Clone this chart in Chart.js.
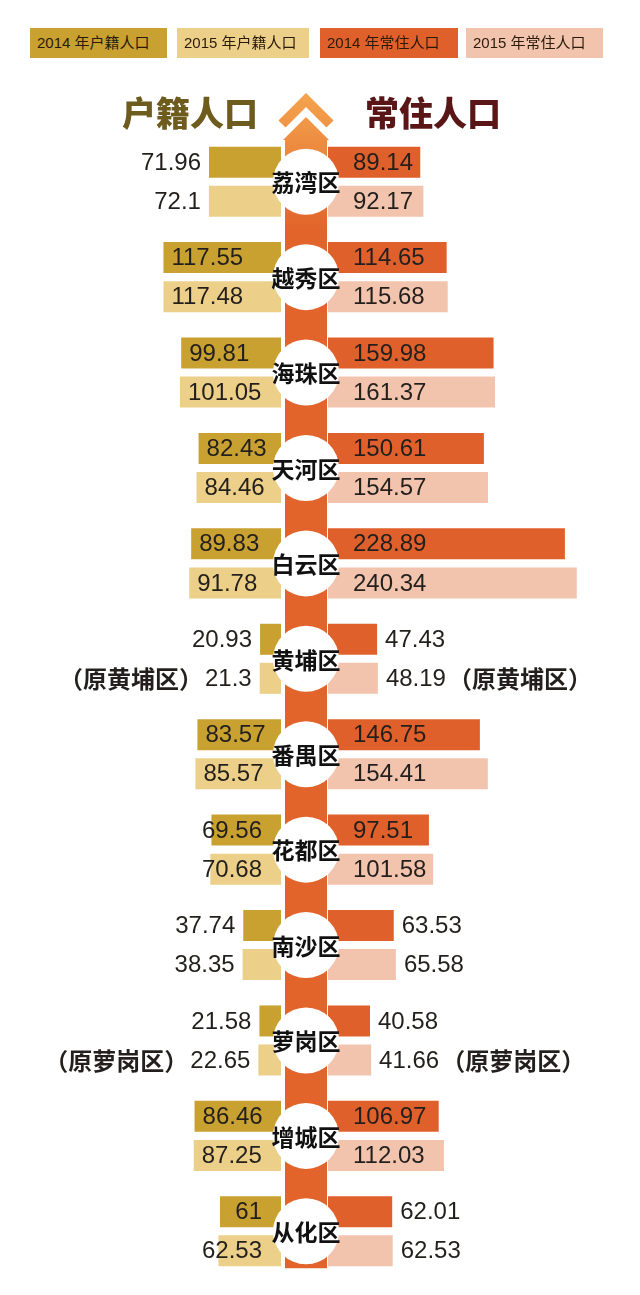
<!DOCTYPE html>
<html><head><meta charset="utf-8">
<script src="https://cdn.jsdelivr.net/npm/chart.js@4.4.1/dist/chart.umd.min.js"></script>
<style>
html,body{margin:0;padding:0;background:#fff;width:640px;height:1295px;overflow:hidden;}
#wrap{position:relative;width:640px;height:1295px;}
#c{position:absolute;left:0;top:0;}
.lg{position:absolute;top:28px;height:30px;line-height:30px;font-family:"Liberation Sans","Noto Sans CJK SC",sans-serif;font-size:15px;color:#2a1a0a;padding-left:7px;box-sizing:border-box;white-space:nowrap;}
.tt{position:absolute;top:90px;font-family:"Noto Sans CJK SC",sans-serif;font-weight:900;font-size:34px;line-height:44px;white-space:nowrap;}
</style></head>
<body><div id="wrap">
<canvas id="c" width="640" height="1295"></canvas>
<div id="legend"></div>
<div id="titles"></div>
</div>
<script>
const districts = ['荔湾区','越秀区','海珠区','天河区','白云区','黄埔区','番禺区','花都区','南沙区','萝岗区','增城区','从化区'];
const huji2014 = [71.96,117.55,99.81,82.43,89.83,20.93,83.57,69.56,37.74,21.58,86.46,61];
const huji2015 = [72.1,117.48,101.05,84.46,91.78,21.3,85.57,70.68,38.35,22.65,87.25,62.53];
const changzhu2014 = [89.14,114.65,159.98,150.61,228.89,47.43,146.75,97.51,63.53,40.58,106.97,62.01];
const changzhu2015 = [92.17,115.68,161.37,154.57,240.34,48.19,154.41,101.58,65.58,41.66,112.03,62.53];
const notes = ['','','','','','（原黄埔区）','','','','（原萝岗区）','',''];
const seriesLabels = ['2014 年户籍人口','2015 年户籍人口','2014 年常住人口','2015 年常住人口'];
const sideTitles = ['户籍人口','常住人口'];

const colors = ['#c9a131','#ecd089','#e0602b','#f3c4ad'];
const legendBoxes = [[30,137],[177,132],[320,138],[466,137]];
const lgEl = document.getElementById('legend');
seriesLabels.forEach((s,i)=>{
  const d=document.createElement('div');
  d.className='lg'; d.textContent=s;
  d.style.left=legendBoxes[i][0]+'px'; d.style.width=legendBoxes[i][1]+'px';
  d.style.background=colors[i];
  lgEl.appendChild(d);
});
const ttEl = document.getElementById('titles');
[[122,'#6d5c1e'],[365,'#5a1616']].forEach((p,i)=>{
  const d=document.createElement('div');
  d.className='tt'; d.textContent=sideTitles[i];
  d.style.left=p[0]+'px'; d.style.color=p[1];
  ttEl.appendChild(d);
});

const KL = 1.0, KR = 1.035; // px per unit on each side
const LB = 281, RB = 328, W = 640;
const CX = 306;

const decor = {
  id:'decor',
  beforeDatasetsDraw(chart){
    const ctx=chart.ctx, y=chart.scales.y;
    const bottom = y.getPixelForValue(districts.length-1) + 37;
    ctx.save();
    const g = ctx.createLinearGradient(0,95,0,230);
    g.addColorStop(0,'#f3a34e'); g.addColorStop(1,'#e2642a');
    ctx.fillStyle=g;
    ctx.beginPath();
    ctx.moveTo(CX-21,bottom); ctx.lineTo(CX-21,140); ctx.lineTo(CX-23,140);
    ctx.lineTo(CX,117); ctx.lineTo(CX+23,140); ctx.lineTo(CX+21,140);
    ctx.lineTo(CX+21,bottom); ctx.closePath(); ctx.fill();
    ctx.strokeStyle=g; ctx.lineWidth=10; ctx.lineJoin='miter';
    ctx.beginPath(); ctx.moveTo(CX-24,124); ctx.lineTo(CX,100); ctx.lineTo(CX+24,124); ctx.stroke();
    ctx.restore();
  },
  afterDatasetsDraw(chart){
    const ctx=chart.ctx, y=chart.scales.y;
    ctx.save();
    districts.forEach((d,i)=>{
      const cy=y.getPixelForValue(i);
      ctx.beginPath(); ctx.arc(CX,cy,33,0,Math.PI*2); ctx.fillStyle='#fff'; ctx.fill();
      ctx.font='bold 23px "Noto Sans CJK SC", sans-serif';
      ctx.fillStyle='#111'; ctx.textAlign='center'; ctx.textBaseline='middle';
      ctx.fillText(d,CX,cy+1);
    });
    ctx.fillStyle='#231f1c';
    ctx.textBaseline='middle';
    chart.data.datasets.forEach((ds,di)=>{
      const meta=chart.getDatasetMeta(di);
      const left = ds.xAxisID==='xL';
      meta.data.forEach((bar,i)=>{
        const v=ds.data[i]; const txt=String(v);
        ctx.font='24px "Liberation Sans","Noto Sans CJK SC", sans-serif';
        const tw=ctx.measureText(txt).width;
        const note = (di%2===1)? notes[i] : '';
        const by=bar.y+1;
        if(left){
          let tx, align;
          if(v>=80){tx=bar.x+8; align='left';}
          else if(v>=55 && v<71.5){tx=bar.base-19; align='right';}
          else {tx=bar.x-8; align='right';}
          ctx.textAlign=align; ctx.fillText(txt,tx,by);
          if(note){
            const start = align==='right'? tx-tw : tx;
            ctx.font='bold 24px "Noto Sans CJK SC", sans-serif';
            ctx.textAlign='right'; ctx.fillText(note,start-2,by);
          }
        } else {
          const bw = bar.x - bar.base;
          let tx;
          if(bw >= tw + 30){tx=bar.base+25;}
          else {tx=bar.x+8;}
          ctx.textAlign='left'; ctx.fillText(txt,tx,by);
          if(note){
            ctx.font='bold 24px "Noto Sans CJK SC", sans-serif';
            ctx.fillText(note,tx+tw+2,by);
          }
        }
      });
    });
    ctx.restore();
  }
};

new Chart(document.getElementById('c'),{
  type:'bar',
  data:{
    labels:districts,
    datasets:[
      {label:seriesLabels[0],data:huji2014,xAxisID:'xL',stack:'a',backgroundColor:colors[0]},
      {label:seriesLabels[1],data:huji2015,xAxisID:'xL',stack:'b',backgroundColor:colors[1]},
      {label:seriesLabels[2],data:changzhu2014,xAxisID:'xR',stack:'a',backgroundColor:colors[2]},
      {label:seriesLabels[3],data:changzhu2015,xAxisID:'xR',stack:'b',backgroundColor:colors[3]}
    ]
  },
  options:{
    indexAxis:'y',
    responsive:false,
    animation:false,
    devicePixelRatio:1,
    categoryPercentage:0.818,
    barPercentage:0.795,
    layout:{padding:{top:134,bottom:16,left:0,right:0}},
    plugins:{legend:{display:false},tooltip:{enabled:false}},
    scales:{
      y:{type:'category',display:false,offset:true,grid:{display:false}},
      xL:{type:'linear',position:'bottom',reverse:true,min:-(W-LB)/KL,max:LB/KL,display:false,stacked:false,grid:{display:false}},
      xR:{type:'linear',position:'bottom',min:-RB/KR,max:(W-RB)/KR,display:false,stacked:false,grid:{display:false}}
    }
  },
  plugins:[decor]
});
</script>
</body></html>
